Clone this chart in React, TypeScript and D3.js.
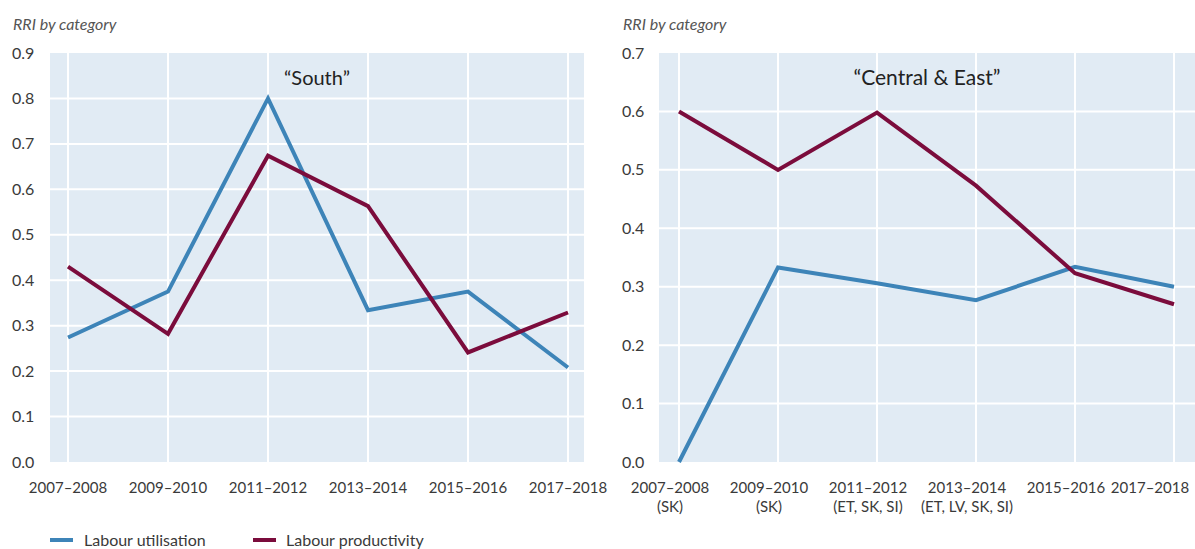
import * as d3 from "d3";

const periods = ["2007–2008", "2009–2010", "2011–2012", "2013–2014", "2015–2016", "2017–2018"];
const ceeNotes = ["(SK)", "(SK)", "(ET, SK, SI)", "(ET, LV, SK, SI)", "", ""];

const southUtil = [0.274, 0.375, 0.8, 0.334, 0.375, 0.208];
const southProd = [0.43, 0.282, 0.674, 0.563, 0.241, 0.329];
const ceeUtil = [0.0, 0.333, 0.306, 0.277, 0.334, 0.3];
const ceeProd = [0.6, 0.5, 0.598, 0.473, 0.323, 0.27];

const southTicks = [0, 0.1, 0.2, 0.3, 0.4, 0.5, 0.6, 0.7, 0.8, 0.9];
const ceeTicks = [0, 0.1, 0.2, 0.3, 0.4, 0.5, 0.6, 0.7];

const BLUE = "#3d84b8";
const RED = "#7b0c3c";
const BG = "#e1ebf4";
const TXT = "#3a3a3a";
const FONT = "Lato, 'Open Sans', sans-serif";

type PanelProps = {
  x0: number;
  x1: number;
  firstPt: number;
  lastPt: number;
  yMax: number;
  ticks: number[];
  util: number[];
  prod: number[];
  title: string;
  titleX: number;
  titleSize: number;
  labelX: number;
  labelShift: number;
  notes?: string[];
};

function Panel(p: PanelProps) {
  const top = 53;
  const bottom = 462;
  const x = d3.scalePoint<string>().domain(periods).range([p.firstPt, p.lastPt]);
  const y = d3.scaleLinear().domain([0, p.yMax]).range([bottom, top]);
  const line = d3
    .line<number>()
    .x((_, i) => x(periods[i]) as number)
    .y((d) => y(d));

  // x label position: last one is kept inside the picture
  const lx = (c: string, i: number) =>
    i === periods.length - 1 ? Math.min((x(c) as number) + p.labelShift, 1150) : (x(c) as number) + p.labelShift;

  return (
    <g>
      <text x={p.labelX + 1} y={30} fontStyle="italic" fontSize={16} fill="#555" fontFamily={FONT}>
        RRI by category
      </text>
      <rect x={p.x0} y={top} width={p.x1 - p.x0} height={bottom - top} fill={BG} />
      {p.ticks.map((t) => (
        <g key={t}>
          {t > 0 && t < p.yMax && (
            <line x1={p.x0} x2={p.x1} y1={y(t)} y2={y(t)} stroke="#fff" strokeWidth={2} />
          )}
          <text x={p.labelX} y={y(t)} dy="0.35em" fontSize={16} fill={TXT} fontFamily={FONT}>
            {t.toFixed(1)}
          </text>
        </g>
      ))}
      {periods.map((c) => (
        <line key={c} x1={x(c)} x2={x(c)} y1={top} y2={bottom} stroke="#fff" strokeWidth={2} />
      ))}
      {periods.map((c, i) => (
        <g key={"l" + c}>
          <text x={lx(c, i)} y={493} textAnchor="middle" fontSize={15} fill={TXT} fontFamily={FONT}>
            {c}
          </text>
          {p.notes && p.notes[i] && (
            <text x={lx(c, i)} y={512} textAnchor="middle" fontSize={15} fill={TXT} fontFamily={FONT}>
              {p.notes[i]}
            </text>
          )}
        </g>
      ))}
      <path d={line(p.util) || ""} fill="none" stroke={BLUE} strokeWidth={4} />
      <path d={line(p.prod) || ""} fill="none" stroke={RED} strokeWidth={4} />
      <text x={p.titleX} y={85} textAnchor="middle" fontSize={p.titleSize} fill="#222" fontFamily={FONT}>
        {p.title}
      </text>
    </g>
  );
}

export default function App() {
  return (
    <svg width={1195} height={549} style={{ position: "absolute", left: 0, top: 0 }}>
      <rect width={1195} height={549} fill="#fff" />
      <Panel
        x0={50}
        x1={584}
        firstPt={68}
        lastPt={568}
        yMax={0.9}
        ticks={southTicks}
        util={southUtil}
        prod={southProd}
        title="“South”"
        titleX={317}
        titleSize={20}
        labelX={12}
        labelShift={0}
      />
      <Panel
        x0={659}
        x1={1195}
        firstPt={679}
        lastPt={1174}
        yMax={0.7}
        ticks={ceeTicks}
        util={ceeUtil}
        prod={ceeProd}
        title="“Central & East”"
        titleX={927}
        titleSize={21}
        labelX={622}
        labelShift={-9}
        notes={ceeNotes}
      />
      <g fontFamily={FONT} fontSize={16} fill={TXT}>
        <line x1={50} x2={73} y1={540} y2={540} stroke={BLUE} strokeWidth={4} />
        <text x={84} y={540} dy="0.35em">Labour utilisation</text>
        <line x1={253} x2={276} y1={540} y2={540} stroke={RED} strokeWidth={4} />
        <text x={286} y={540} dy="0.35em">Labour productivity</text>
      </g>
    </svg>
  );
}
